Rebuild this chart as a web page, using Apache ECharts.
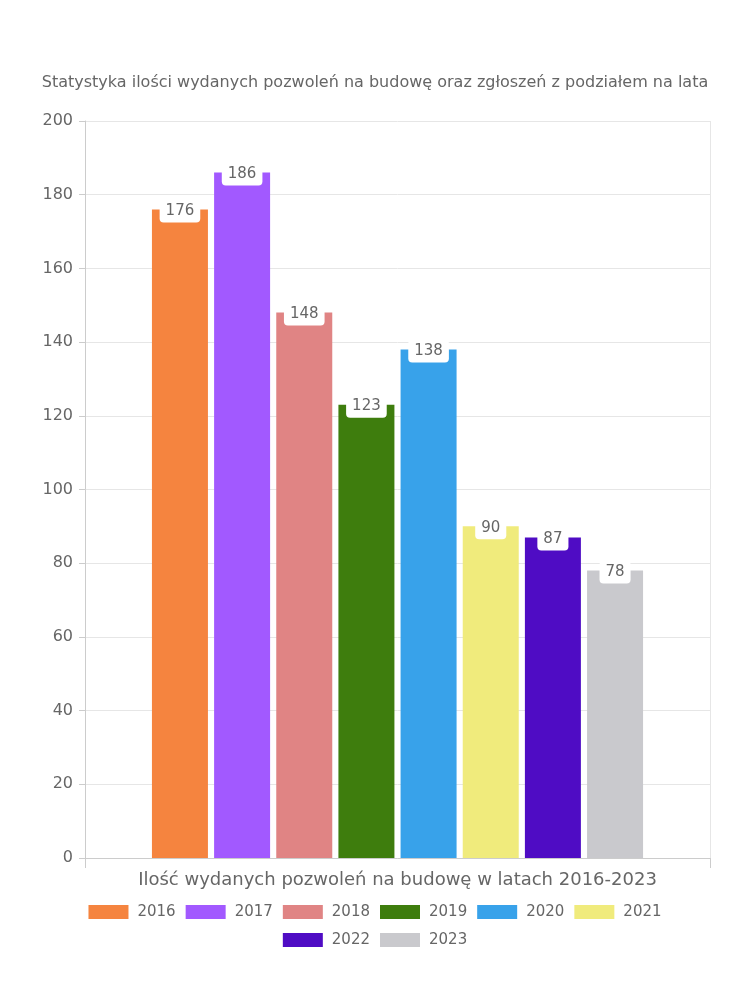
<!DOCTYPE html>
<html><head><meta charset="utf-8">
<script src="https://cdn.jsdelivr.net/npm/echarts@6/dist/echarts.min.js"></script>
<style>html,body{margin:0;padding:0;background:#fff}#c{width:750px;height:1000px}</style>
</head><body><div id="c"></div>
<script>
const titleText = 'Statystyka ilości wydanych pozwoleń na budowę oraz zgłoszeń z podziałem na lata';
const categories = ['Ilość wydanych pozwoleń na budowę w latach 2016-2023'];
const years = ['2016','2017','2018','2019','2020','2021','2022','2023'];
const values = [176, 186, 148, 123, 138, 90, 87, 78];
const colors = ['#F5843F','#A259FF','#E08484','#3E7D0D','#38A2EA','#F0EB7C','#4F0CC4','#C9C9CD'];
const yTicks = {min: 0, max: 200, interval: 20};

const FONT = '"DejaVu Sans", sans-serif';
const TXT = '#666';
const legendBase = {
  left: 'center', itemWidth: 40, itemHeight: 14, itemGap: 10, icon: 'rect',
  textStyle: {fontFamily: FONT, fontSize: 15, color: TXT, padding: [0, 0, 0, 4], lineHeight: 18}
};
const chart = echarts.init(document.getElementById('c'));
chart.setOption({
  animation: false,
  textStyle: {fontFamily: FONT},
  title: {
    text: titleText, left: 'center', top: 70,
    textStyle: {fontFamily: FONT, fontSize: 16, fontWeight: 'normal', color: TXT}
  },
  grid: {left: 85, right: 40, top: 121, bottom: 142},
  legend: [
    Object.assign({}, legendBase, {data: years.slice(0, 6), top: 898}),
    Object.assign({}, legendBase, {data: years.slice(6), top: 926})
  ],
  xAxis: {
    type: 'category', data: categories,
    axisLine: {lineStyle: {color: '#ccc'}},
    axisTick: {show: true, length: 10, lineStyle: {color: '#ccc'}},
    splitLine: {show: true, lineStyle: {color: '#e6e6e6'}},
    axisLabel: {fontFamily: FONT, fontSize: 18, color: TXT, margin: 13}
  },
  yAxis: {
    type: 'value', min: yTicks.min, max: yTicks.max, interval: yTicks.interval,
    axisLine: {show: true, lineStyle: {color: '#ccc'}},
    axisTick: {show: true, length: 6, lineStyle: {color: '#ccc'}},
    splitLine: {lineStyle: {color: '#e6e6e6'}},
    axisLabel: {fontFamily: FONT, fontSize: 16, color: TXT, margin: 12}
  },
  series: years.map((y, i) => ({
    name: y, type: 'bar', data: [values[i]],
    barWidth: 56, barGap: '11%',
    itemStyle: {color: colors[i]},
    label: {
      show: true, position: 'insideTop', distance: 0, offset: [0, -10],
      backgroundColor: '#fff', borderRadius: 4, padding: [4, 6],
      fontFamily: FONT, fontSize: 15, color: TXT
    }
  }))
});
</script></body></html>
